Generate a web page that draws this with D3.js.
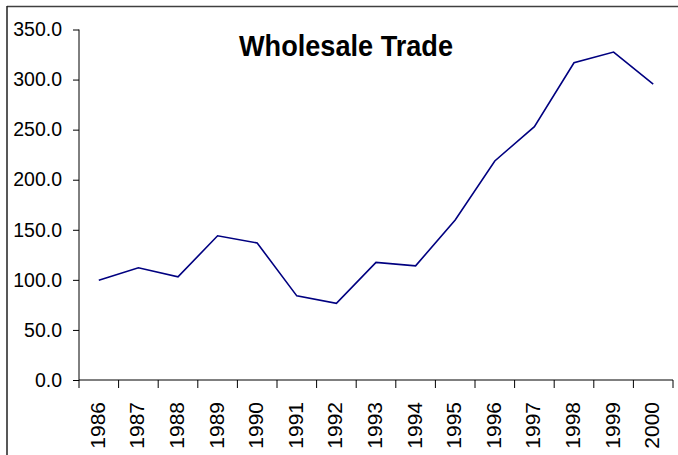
<!DOCTYPE html>
<html><head><meta charset="utf-8">
<script src="https://cdn.jsdelivr.net/npm/d3@7"></script>
<style>body{margin:0;background:#fff;}svg{display:block;}</style>
</head><body>
<svg id="chart" width="678" height="455"></svg>
<script>
const years = ["1986","1987","1988","1989","1990","1991","1992","1993","1994","1995","1996","1997","1998","1999","2000"];
const values = [99.5,112,103,144,136.8,84,76.5,117.5,114,159.8,218.7,253,316.8,327.5,295.5];
const yTicks = [0,50,100,150,200,250,300,350];
const title = "Wholesale Trade";

(function(){
const svg = d3.select("#chart");
const W = 678, H = 455;
const mLeft = 79, mRight = 673, mTop = 29.5, mBottom = 380;
const FONT = "Liberation Sans, Arial, sans-serif";

// frame
svg.append("line").attr("x1",7).attr("x2",W).attr("y1",6.5).attr("y2",6.5).attr("stroke","#404040").attr("stroke-width",1.5);
svg.append("line").attr("x1",7).attr("x2",7).attr("y1",6).attr("y2",H).attr("stroke","#202020").attr("stroke-width",1.5);

const x = d3.scaleBand().domain(years).range([mLeft, mRight]).padding(0);
const y = d3.scaleLinear().domain([0,350]).range([mBottom, mTop]);

// y axis
const yAxis = d3.axisLeft(y).tickValues(yTicks).tickFormat(d3.format(".1f")).tickSize(6).tickPadding(11);
const gy = svg.append("g").attr("transform",`translate(${mLeft},0)`).call(yAxis);
gy.select(".domain").attr("stroke","#000").attr("d",`M0,${mTop}V${mBottom}`);
gy.selectAll(".tick line").attr("stroke","#000");
gy.selectAll("text").attr("font-family",FONT).attr("font-size",19.5).attr("fill","#000");

// x axis with ticks at band boundaries
const gx = svg.append("g").attr("transform",`translate(0,${mBottom})`);
gx.append("line").attr("x1",mLeft).attr("x2",mRight).attr("stroke","#000");
const bounds = years.map(d => x(d)).concat([mRight]);
gx.selectAll("line.tk").data(bounds).enter().append("line").attr("class","tk")
  .attr("x1",d=>d).attr("x2",d=>d).attr("y1",0).attr("y2",8).attr("stroke","#000");
gx.selectAll("text").data(years).enter().append("text")
  .attr("transform",d=>`translate(${x(d)+x.bandwidth()/2+6},22) rotate(-90)`)
  .attr("text-anchor","end")
  .attr("font-family",FONT).attr("font-size",21).attr("fill","#000")
  .text(d=>d);

// line
const line = d3.line().x((d,i)=>x(years[i])+x.bandwidth()/2).y(d=>y(d));
svg.append("path").datum(values).attr("d",line).attr("fill","none").attr("stroke","#000080").attr("stroke-width",1.6).attr("stroke-linejoin","miter");

// title
svg.append("text").attr("x",239).attr("y",56)
  .attr("font-family",FONT).attr("font-weight","bold").attr("font-size",30)
  .attr("textLength",214).attr("lengthAdjust","spacingAndGlyphs")
  .attr("fill","#000").text(title);
})();
</script>
</body></html>
